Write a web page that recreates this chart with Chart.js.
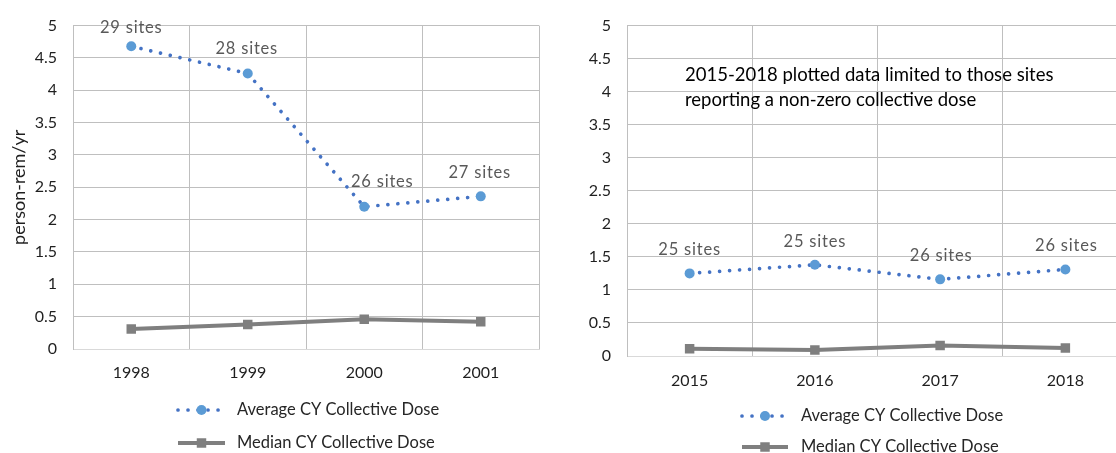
<!DOCTYPE html>
<html>
<head>
<meta charset="utf-8">
<script src="https://cdn.jsdelivr.net/npm/chart.js@4.4.1/dist/chart.umd.min.js"></script>
<style>
  html, body { margin: 0; padding: 0; background: #ffffff; overflow: hidden; width: 1116px; height: 453px; }
  #early { position: absolute; left: 0; top: 0; width: 560px; height: 453px; }
  #late  { position: absolute; left: 560px; top: 0; width: 600px; height: 453px; }
</style>
</head>
<body>
<div id="early"><canvas id="chartEarly"></canvas></div>
<div id="late"><canvas id="chartLate"></canvas></div>
<script>
// Calendar-year collective dose, person-rem/yr
const yearsEarly  = ['1998', '1999', '2000', '2001'];
const avgEarly    = [4.68, 4.26, 2.20, 2.36];
const medianEarly = [0.31, 0.38, 0.46, 0.42];
const sitesEarly  = ['29 sites', '28 sites', '26 sites', '27 sites'];

const yearsLate   = ['2015', '2016', '2017', '2018'];
const avgLate     = [1.25, 1.38, 1.16, 1.31];
const medianLate  = [0.11, 0.09, 0.16, 0.12];
const sitesLate   = ['25 sites', '25 sites', '26 sites', '26 sites'];

const yTickValues = [0, 0.5, 1, 1.5, 2, 2.5, 3, 3.5, 4, 4.5, 5];
const yTickLabels = ['0', '0.5', '1', '1.5', '2', '2.5', '3', '3.5', '4', '4.5', '5'];

const seriesNames = ['Average CY Collective Dose', 'Median CY Collective Dose'];
const lateNote = ['2015-2018 plotted data limited to those sites', 'reporting a non-zero collective dose'];

const FONT = 'Lato, "Open Sans", sans-serif';
const GRID = '#BFBFBF';

// Site-count labels drawn above each average point
const siteLabels = {
  id: 'siteLabels',
  afterDatasetsDraw(chart, args, opts) {
    const meta = chart.getDatasetMeta(0);
    const ctx = chart.ctx;
    ctx.save();
    ctx.font = '16.5px ' + FONT;
    ctx.letterSpacing = '0.8px';
    ctx.fillStyle = '#595959';
    ctx.textAlign = 'center';
    ctx.textBaseline = 'middle';
    meta.data.forEach((pt, i) => {
      const s = (opts.shift && opts.shift[i]) || [0, -24];
      ctx.fillText(opts.texts[i], pt.x + s[0], pt.y + s[1]);
    });
    ctx.restore();
  }
};

// Legend stacked in two rows under the plot
const stackedLegend = {
  id: 'stackedLegend',
  afterDraw(chart, args, opts) {
    const ctx = chart.ctx;
    chart.data.datasets.forEach((ds, i) => {
      const y = opts.rows[i];
      const x0 = opts.x, x1 = opts.x + opts.sample;
      ctx.save();
      ctx.strokeStyle = ds.borderColor;
      ctx.lineWidth = ds.borderWidth;
      ctx.lineCap = ds.borderCapStyle || 'butt';
      ctx.setLineDash(ds.borderDash || []);
      ctx.beginPath();
      ctx.moveTo(x0, y);
      ctx.lineTo(x1, y);
      ctx.stroke();
      ctx.setLineDash([]);
      ctx.fillStyle = ds.pointBackgroundColor;
      ctx.strokeStyle = ds.pointBorderColor;
      Chart.helpers.drawPoint(ctx, { pointStyle: ds.pointStyle, radius: ds.pointRadius, borderWidth: 0, rotation: 0 }, (x0 + x1) / 2, y);
      ctx.font = '16.5px ' + FONT;
      ctx.fillStyle = '#262626';
      ctx.textAlign = 'left';
      ctx.textBaseline = 'middle';
      ctx.fillText(ds.label, opts.textX, y);
      ctx.restore();
    });
  }
};

// Free-standing note inside the plot
const noteText = {
  id: 'noteText',
  afterDraw(chart, args, opts) {
    if (!opts.lines) return;
    const ctx = chart.ctx;
    ctx.save();
    ctx.font = '18.5px ' + FONT;
    ctx.fillStyle = '#000000';
    ctx.textAlign = 'left';
    ctx.textBaseline = 'middle';
    opts.lines.forEach((t, i) => ctx.fillText(t, opts.x, opts.y + i * opts.lineGap));
    ctx.restore();
  }
};

function buildChart(canvasId, cfg) {
  return new Chart(document.getElementById(canvasId), {
    type: 'line',
    data: {
      labels: cfg.labels,
      datasets: [
        {
          label: seriesNames[0],
          data: cfg.avg,
          borderColor: '#4472C4',
          borderWidth: 3.7,
          borderDash: [0.01, 10],
          borderCapStyle: 'round',
          pointStyle: 'circle',
          pointRadius: 5,
          pointBackgroundColor: '#5B9BD5',
          pointBorderColor: '#5B9BD5',
          pointBorderWidth: 0,
          tension: 0,
          order: 1
        },
        {
          label: seriesNames[1],
          data: cfg.median,
          borderColor: '#7F7F7F',
          borderWidth: 4,
          pointStyle: 'rect',
          pointRadius: 6.7,
          pointBackgroundColor: '#7F7F7F',
          pointBorderColor: '#7F7F7F',
          pointBorderWidth: 0,
          tension: 0,
          order: 2
        }
      ]
    },
    options: {
      responsive: true,
      maintainAspectRatio: false,
      animation: false,
      devicePixelRatio: 1,
      layout: { padding: cfg.padding },
      plugins: {
        legend: { display: false },
        tooltip: { enabled: false },
        siteLabels: { texts: cfg.sites, shift: cfg.labelShift },
        stackedLegend: cfg.legend,
        noteText: cfg.note || {}
      },
      scales: {
        x: {
          type: 'category',
          offset: true,
          grid: { offset: true, color: GRID, lineWidth: 1, drawTicks: false },
          border: { color: '#D9D9D9', width: 1 },
          ticks: { padding: cfg.xPad, color: '#1f1f1f', font: { family: FONT, size: 16 } },
          afterFit: (axis) => { axis.height = 40; }
        },
        y: {
          min: 0,
          max: 5,
          afterBuildTicks: (axis) => { axis.ticks = yTickValues.map(v => ({ value: v })); },
          grid: {
            color: (c) => (c.tick && c.tick.value === 0 ? '#D9D9D9' : GRID),
            lineWidth: 1,
            drawTicks: false
          },
          border: { color: GRID, width: 1 },
          ticks: {
            padding: 16,
            color: '#1f1f1f',
            font: { family: FONT, size: 16 },
            callback: (v, i) => yTickLabels[i]
          },
          title: cfg.yTitle || { display: false },
          afterFit: (axis) => { axis.width = cfg.yWidth; }
        }
      }
    },
    plugins: [siteLabels, stackedLegend, noteText]
  });
}

buildChart('chartEarly', {
  labels: yearsEarly,
  avg: avgEarly,
  median: medianEarly,
  sites: sitesEarly,
  labelShift: [[0, -19], [-1, -25], [18, -25], [-1, -24]],
  padding: { left: 0, top: 19, right: 21, bottom: 64 },
  xPad: 14,
  yWidth: 73,
  yTitle: {
    display: true,
    text: 'person-rem/yr',
    color: '#1f1f1f',
    font: { family: FONT, size: 18 },
    padding: { top: 8, bottom: 0 }
  },
  legend: { x: 178, sample: 47, textX: 237, rows: [410, 443] }
});

buildChart('chartLate', {
  labels: yearsLate,
  avg: avgLate,
  median: medianLate,
  sites: sitesLate,
  labelShift: [[0, -24], [0, -23], [1, -24], [1, -24]],
  padding: { left: 0, top: 22, right: 32, bottom: 57 },
  xPad: 15,
  yWidth: 67,
  legend: { x: 182, sample: 46, textX: 241, rows: [416, 447] },
  note: { lines: lateNote, x: 125, y: 75, lineGap: 25 }
});
</script>
</body>
</html>
